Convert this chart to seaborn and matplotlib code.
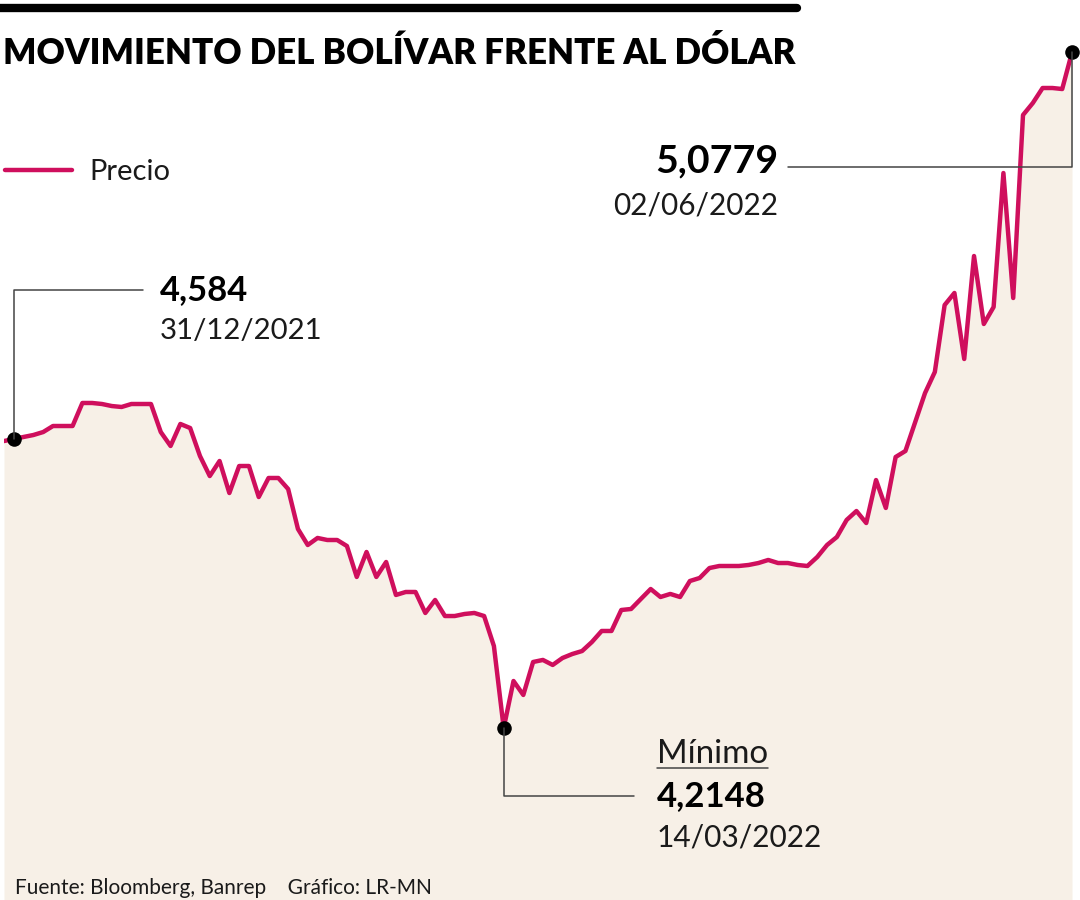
import seaborn as sns
import matplotlib.pyplot as plt
import pandas as pd
import numpy as np
from matplotlib.lines import Line2D
from matplotlib.transforms import Affine2D

# -------------------------------
# Data
# -------------------------------
precio = [
    4.5814, 4.5840, 4.5866, 4.5891, 4.5929, 4.6006, 4.6006, 4.6006, 4.6300, 4.6300,
    4.6287, 4.6261, 4.6249, 4.6287, 4.6287, 4.6287, 4.5929, 4.5751, 4.6032, 4.5980,
    4.5623, 4.5367, 4.5559, 4.5150, 4.5495, 4.5495, 4.5099, 4.5342, 4.5342, 4.5201,
    4.4691, 4.4486, 4.4576, 4.4550, 4.4550, 4.4473, 4.4078, 4.4397, 4.4078, 4.4269,
    4.3848, 4.3886, 4.3886, 4.3618, 4.3784, 4.3579, 4.3579, 4.3605, 4.3618, 4.3579,
    4.3196, 4.2148, 4.2749, 4.2571, 4.2992, 4.3018, 4.2954, 4.3043, 4.3094, 4.3132,
    4.3247, 4.3388, 4.3388, 4.3656, 4.3669, 4.3797, 4.3924, 4.3822, 4.3861, 4.3822,
    4.4026, 4.4065, 4.4192, 4.4218, 4.4218, 4.4218, 4.4231, 4.4256, 4.4295, 4.4256,
    4.4256, 4.4231, 4.4218, 4.4333, 4.4486, 4.4588, 4.4806, 4.4920, 4.4767, 4.5316,
    4.4959, 4.5610, 4.5687, 4.6057, 4.6427, 4.6696, 4.7551, 4.7705, 4.6862, 4.8177,
    4.7309, 4.7526, 4.9237, 4.7641, 4.9978, 5.0131, 5.0323, 5.0323, 5.0310, 5.0779,
]
dia = list(range(len(precio)))

# highlighted points: index, value label, date label
puntos_idx = [1, 51, 109]
puntos_valor = ["4,584", "4,2148", "5,0779"]
puntos_fecha = ["31/12/2021", "14/03/2022", "02/06/2022"]

titulo = "MOVIMIENTO DEL BOLÍVAR FRENTE AL DÓLAR"
fuente = "Fuente: Bloomberg, Banrep    Gráfico: LR-MN"

df = pd.DataFrame({"dia": dia, "precio": precio})

LINEA = "#CF0F5D"
RELLENO = "#F7F0E7"
GRIS = "#444444"
TEXTO = "#1a1a1a"

# -------------------------------
# Figure
# -------------------------------
sns.set_style("white")
plt.rcParams["font.family"] = ["Lato", "DejaVu Sans"]

W, H = 1080, 900
fig = plt.figure(figsize=(W / 100, H / 100), dpi=100)
ax = fig.add_axes([4 / W, 0, 1068 / W, 1])

ax.fill_between(df["dia"], df["precio"], 3.9952, color=RELLENO, lw=0, zorder=1)
sns.lineplot(data=df, x="dia", y="precio", color=LINEA, lw=3.2, label="Precio",
             ax=ax, zorder=3)
ax.set_xlim(0, 109)
ax.set_ylim(3.9952, 5.1447)
ax.axis("off")

# pixel coords with origin at top-left
px = Affine2D().scale(1 / W, -1 / H).translate(0, 1) + fig.transFigure


def to_px(i):
    x, y = ax.transData.transform((dia[i], precio[i]))
    return x, H - y


def linea(xs, ys):
    fig.add_artist(Line2D(xs, ys, transform=px, color=GRIS, lw=1.1, zorder=2))


renderer = fig.canvas.get_renderer()


def texto(x, y, s, ancho, size, ha="left", **kw):
    t = fig.text(x, y, s, transform=px, ha=ha, va="baseline", fontsize=size, **kw)
    w = t.get_window_extent(renderer).width
    t.set_fontsize(size * ancho / w)
    return t


# connectors + dots
x0, y0 = to_px(puntos_idx[0])
linea([x0, x0, 143], [y0, 290, 290])
x1, y1 = to_px(puntos_idx[1])
linea([x1, x1, 634], [y1, 796, 796])
x2, y2 = to_px(puntos_idx[2])
linea([788, x2, x2], [167, 167, y2])

ax.scatter([dia[i] for i in puntos_idx], [precio[i] for i in puntos_idx],
           s=110, color="black", zorder=5, linewidths=0, clip_on=False)

# labels
texto(160, 300, puntos_valor[0], 88, 24, weight="bold", color="black")
texto(160, 339, puntos_fecha[0], 162, 22, color=TEXTO)

texto(657, 763, "Mínimo", 111, 22, color=TEXTO)
linea([657, 768], [768, 768])
texto(657, 806, puntos_valor[1], 109, 24, weight="bold", color="black")
texto(657, 847, puntos_fecha[1], 165, 22, color=TEXTO)

texto(778, 172, puntos_valor[2], 123, 24, ha="right", weight="bold", color="black")
texto(778, 214, puntos_fecha[2], 164, 22, ha="right", color=TEXTO)

# title, bar, source
fig.add_artist(Line2D([0, 797], [8, 8], transform=px, color="black", lw=6))
texto(3, 64, titulo, 794, 28, weight="heavy", color="black")
texto(15, 894, fuente, 420, 14, color=TEXTO)

leg = ax.legend(loc="center left", bbox_to_anchor=(5 / W, 1 - 172 / H),
                bbox_transform=fig.transFigure, frameon=False, fontsize=21,
                handlelength=2.3, handletextpad=0.6, borderpad=0, borderaxespad=0)
for t in leg.get_texts():
    t.set_color(TEXTO)

fig.savefig("out.png", dpi=100)
plt.close(fig)
